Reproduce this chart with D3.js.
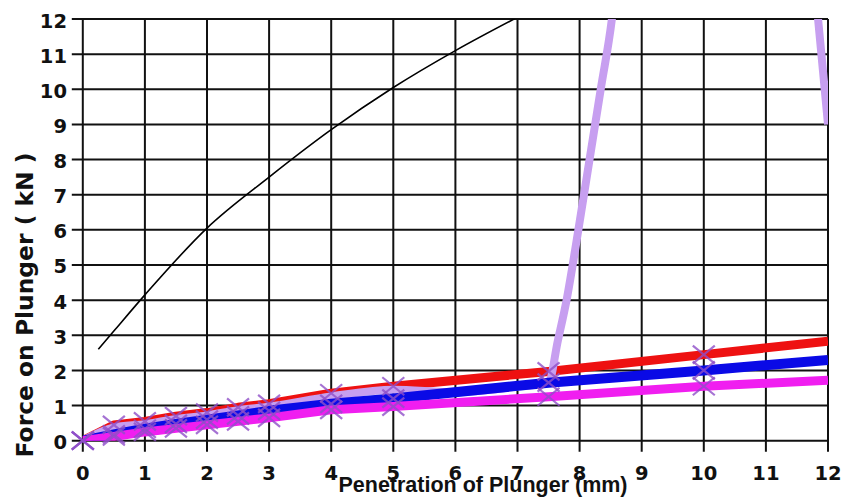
<!DOCTYPE html>
<html>
<head>
<meta charset="utf-8">
<script src="https://cdn.jsdelivr.net/npm/d3@7"></script>
<style>
  html, body { margin: 0; padding: 0; background: #fff; }
  svg { display: block; }
</style>
</head>
<body>
<svg id="chart" width="849" height="502"></svg>
<script>
// Axis ticks (mm and kN)
const xTicks = d3.range(0, 13);
const yTicks = d3.range(0, 13);

// Penetration positions where readings were taken
const penetration = [0, 0.5, 1, 1.5, 2, 2.5, 3, 4, 5, 7.5, 10, 12];

// Measured force curves (kN)
const redForce     = [0, 0.45, 0.55, 0.70, 0.80, 0.95, 1.05, 1.35, 1.55, 1.97, 2.45, 2.83];
const blueForce    = [0, 0.18, 0.34, 0.48, 0.60, 0.72, 0.85, 1.05, 1.20, 1.65, 2.00, 2.30];
const magentaForce = [0, 0.12, 0.25, 0.35, 0.45, 0.55, 0.65, 0.88, 0.97, 1.25, 1.55, 1.72];

// Readings marked with a cross (all but the last position)
const markedPositions = [0, 0.5, 1, 1.5, 2, 2.5, 3, 4, 5, 7.5, 10];

// Fitted trend curve (lavender), rising steeply past 7.5 mm
const trendX = [0, 0.5, 1, 1.5, 2, 2.5, 3, 4, 5, 6, 7, 7.5, 7.65, 7.79, 7.98, 8.16, 8.34, 8.52, 8.56];
const trendY = [0, 0.38, 0.47, 0.62, 0.72, 0.87, 0.97, 1.26, 1.45, 1.38, 1.54, 1.65, 2.85, 4.0, 6.0, 8.0, 10.0, 12.0, 12.6];
// Its return branch at the right edge
const trendReturnX = [11.82, 11.84, 12];
const trendReturnY = [12.4, 12.0, 9.0];

// Standard reference curve (thin black)
const standardX = [0.25, 0.5, 1, 2, 3, 4, 5, 6, 7];
const standardY = [2.6, 3.12, 4.15, 6.05, 7.5, 8.85, 10.05, 11.1, 12.05];

const svg = d3.select("#chart");
const x = d3.scaleLinear().domain([0, 12]).range([82.8, 828]);
const y = d3.scaleLinear().domain([0, 12]).range([440.7, 19]);

svg.append("rect").attr("width", 849).attr("height", 502).attr("fill", "#fff");

svg.append("defs").append("clipPath").attr("id", "plotClip")
  .append("rect")
  .attr("x", x(0)).attr("y", y(12))
  .attr("width", x(12) - x(0)).attr("height", y(0) - y(12));

// Grid with protruding ticks
const grid = svg.append("g").attr("stroke", "#111").attr("stroke-width", 2);
grid.selectAll("line.h").data(yTicks).join("line")
  .attr("class", "h")
  .attr("x1", x(0) - 11).attr("x2", x(12))
  .attr("y1", d => y(d)).attr("y2", d => y(d));
grid.selectAll("line.v").data(xTicks).join("line")
  .attr("class", "v")
  .attr("x1", d => x(d)).attr("x2", d => x(d))
  .attr("y1", y(12)).attr("y2", y(0) + 11);

// Tick labels
const tickFont = "'DejaVu Sans', Verdana, sans-serif";
svg.append("g").selectAll("text").data(yTicks).join("text")
  .attr("x", 67).attr("y", d => y(d) + 3)
  .attr("text-anchor", "end").attr("dominant-baseline", "middle")
  .attr("font-family", tickFont).attr("font-weight", "bold").attr("font-size", 19.5)
  .attr("fill", "#111")
  .text(d => d);
svg.append("g").selectAll("text").data(xTicks).join("text")
  .attr("x", d => x(d)).attr("y", 480)
  .attr("text-anchor", "middle")
  .attr("font-family", tickFont).attr("font-weight", "bold").attr("font-size", 19.5)
  .attr("fill", "#111")
  .text(d => d);

// Axis titles
svg.append("text")
  .attr("x", 483).attr("y", 492)
  .attr("text-anchor", "middle")
  .attr("font-family", "'Liberation Sans', Arial, sans-serif")
  .attr("font-weight", "bold").attr("font-size", 21.5)
  .attr("fill", "#111")
  .text("Penetration of Plunger (mm)");
svg.append("text")
  .attr("transform", "translate(33,305) rotate(-90)")
  .attr("text-anchor", "middle")
  .attr("font-family", tickFont)
  .attr("font-weight", "bold").attr("font-size", 23.4)
  .attr("fill", "#111")
  .text("Force on Plunger ( kN )");

const plot = svg.append("g").attr("clip-path", "url(#plotClip)");
const pairs = (xs, ys) => xs.map((v, i) => [v, ys[i]]);
const straight = d3.line().x(d => x(d[0])).y(d => y(d[1]));
const smooth = d3.line().x(d => x(d[0])).y(d => y(d[1])).curve(d3.curveMonotoneX);

// Standard curve
plot.append("path")
  .attr("d", smooth(pairs(standardX, standardY)))
  .attr("fill", "none").attr("stroke", "#000").attr("stroke-width", 1.6);

// Red reading
plot.append("path")
  .attr("d", straight(pairs(penetration, redForce)))
  .attr("fill", "none").attr("stroke", "#ee1111").attr("stroke-width", 9)
  .attr("stroke-linejoin", "round");

// Trend curve
plot.append("path")
  .attr("d", smooth(pairs(trendX, trendY)))
  .attr("fill", "none").attr("stroke", "#c79ff0").attr("stroke-width", 8)
  .attr("stroke-linejoin", "round");
plot.append("path")
  .attr("d", straight(pairs(trendReturnX, trendReturnY)))
  .attr("fill", "none").attr("stroke", "#c79ff0").attr("stroke-width", 8);

// Blue and magenta readings
plot.append("path")
  .attr("d", straight(pairs(penetration, blueForce)))
  .attr("fill", "none").attr("stroke", "#0a0ae6").attr("stroke-width", 10)
  .attr("stroke-linejoin", "round");
plot.append("path")
  .attr("d", straight(pairs(penetration, magentaForce)))
  .attr("fill", "none").attr("stroke", "#f01ef0").attr("stroke-width", 9)
  .attr("stroke-linejoin", "round");

// Cross markers on each reading
const markers = svg.append("g")
  .attr("stroke", "#8f4fc8").attr("stroke-width", 2.2).attr("stroke-opacity", 0.8)
  .attr("fill", "none");
[redForce, blueForce, magentaForce].forEach(series => {
  markedPositions.forEach(p => {
    const i = penetration.indexOf(p);
    const cx = x(p), cy = y(series[i]);
    markers.append("path")
      .attr("d", `M${cx - 11},${cy - 9}L${cx + 11},${cy + 9}M${cx - 11},${cy + 9}L${cx + 11},${cy - 9}`);
  });
});
</script>
</body>
</html>
